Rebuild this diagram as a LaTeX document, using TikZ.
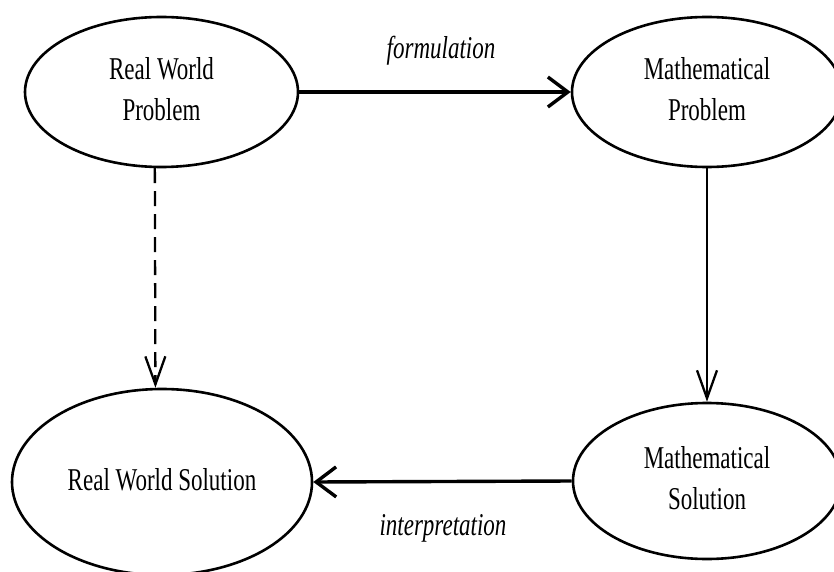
\documentclass[tikz,border=0pt]{standalone}
\usepackage{graphicx}
\usepackage{fontspec}
\setmainfont{Liberation Serif}
\usetikzlibrary{shapes.geometric,arrows.meta}
\newcommand{\vst}[1]{\scalebox{1}[1.38]{\begin{tabular}{@{}c@{}}#1\end{tabular}}}
\begin{document}
\begin{tikzpicture}[x=1pt,y=-1pt,
  ell/.style={ellipse, draw, line width=2.6pt, inner sep=0pt, font=\fontsize{23}{30}\selectfont},
  harr/.style={line width=3.4pt, -{Straight Barb[length=20pt,width=30pt]}},
  varr/.style={line width=2.3pt, -{Straight Barb[length=28pt,width=20pt]}},
  lbl/.style={font=\fontsize{23}{29}\selectfont\itshape, inner sep=0pt}]
\useasboundingbox (0,0) rectangle (834,572);
\fill[white] (0,0) rectangle (834,572);
\clip (0,0) rectangle (834,572);
\node[ell, minimum width=273pt, minimum height=150pt] (rwp) at (161.5,92) {\vst{Real World\\Problem}};
\node[ell, minimum width=270pt, minimum height=150pt] (mp) at (707,92) {\vst{Mathematical\\Problem}};
\node[ell, minimum width=300pt, minimum height=186pt] (rws) at (162,482) {\vst{Real World Solution}};
\node[ell, minimum width=268pt, minimum height=156pt] (ms) at (707,481) {\vst{Mathematical\\Solution}};
\draw[harr] (rwp.east) -- (mp.west);
\draw[harr] (ms.west) -- (rws.east);
\draw[varr] (mp.south) -- (ms.north);
\draw[varr, dash pattern=on 15pt off 8pt] (rwp.265) -- (rws.94);
\node[lbl] (form) at (441,50) {\vst{formulation}};
\node[lbl] (interp) at (443,527) {\vst{interpretation}};
\end{tikzpicture}
\end{document}
